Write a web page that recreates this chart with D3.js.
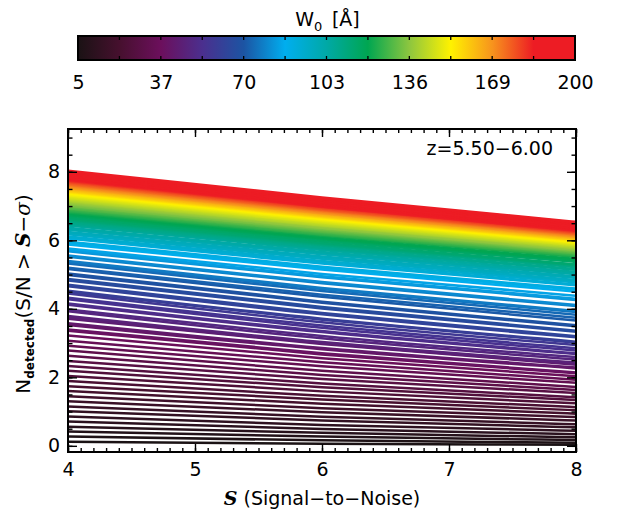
<!DOCTYPE html>
<html>
<head>
<meta charset="utf-8">
<script src="https://cdn.jsdelivr.net/npm/d3@7"></script>
<style>
  body { margin: 0; background: #fff; }
  svg { display: block; }
  text { font-family: "DejaVu Sans", sans-serif; fill: #000; }
</style>
</head>
<body>
<svg id="chart" width="620" height="516"></svg>
<script>
// Rest-frame equivalent width W0 [Å] of each curve
const w0 = [5,6.5,8,9.5,11,12.5,14,15.5,17,18.5,
  20,21.5,23,24.5,26,27.5,29,30.5,32,33.5,
  35,36.5,38,39.5,41,42.5,44,45.5,47,48.5,
  50,51.5,53,54.5,56,57.5,59,60.5,62,63.5,
  65,66.5,68,69.5,71,72.5,74,75.5,77,78.5,
  80,81.5,83,84.5,86,87.5,89,90.5,92,93.5,
  95,96.5,98,99.5,101,102.5,104,105.5,107,108.5,
  110,111.5,113,114.5,116,117.5,119,120.5,122,123.5,
  125,126.5,128,129.5,131,132.5,134,135.5,137,138.5,
  140,141.5,143,144.5,146,147.5,149,150.5,152,153.5,
  155,156.5,158,159.5,161,162.5,164,165.5,167,168.5,
  170,171.5,173,174.5,176,177.5,179,180.5,182,183.5,
  185,186.5,188,189.5,191,192.5,194,195.5,197,198.5,
  200];

// Signal-to-noise thresholds at which N_detected is tabulated
const snr = [4, 6, 8];

// N_detected at S = 4
const nAtS4 = [0.12,0.27,0.42,0.56,0.71,0.86,1.01,1.15,1.30,1.45,
  1.60,1.74,1.89,2.04,2.19,2.33,2.48,2.63,2.78,2.92,
  3.07,3.22,3.36,3.40,3.53,3.58,3.71,3.75,3.79,3.93,
  3.98,4.12,4.16,4.28,4.32,4.45,4.49,4.53,4.66,4.70,
  4.83,4.87,4.99,5.03,5.16,5.20,5.32,5.36,5.40,5.52,
  5.56,5.68,5.72,5.76,5.88,5.92,5.96,6.05,6.08,6.11,
  6.18,6.21,6.24,6.31,6.34,6.37,6.43,6.46,6.49,6.53,
  6.57,6.60,6.63,6.67,6.72,6.75,6.78,6.81,6.84,6.86,
  6.89,6.92,6.94,6.97,7.00,7.02,7.05,7.08,7.11,7.14,
  7.16,7.19,7.22,7.24,7.27,7.30,7.32,7.35,7.38,7.40,
  7.42,7.43,7.45,7.47,7.49,7.51,7.53,7.54,7.56,7.58,
  7.60,7.62,7.64,7.66,7.68,7.70,7.72,7.74,7.75,7.77,
  7.79,7.81,7.83,7.86,7.88,7.90,7.93,7.95,7.98,8.00,
  8.03];

// N_detected at S = 6
const nAtS6 = [0.06,0.16,0.27,0.38,0.49,0.61,0.74,0.85,0.98,1.10,
  1.23,1.35,1.46,1.59,1.71,1.82,1.95,2.07,2.19,2.32,
  2.44,2.56,2.67,2.70,2.82,2.86,2.97,3.00,3.03,3.14,
  3.21,3.32,3.35,3.45,3.51,3.61,3.68,3.71,3.84,3.88,
  4.01,4.05,4.18,4.21,4.35,4.41,4.52,4.58,4.61,4.75,
  4.78,4.92,4.95,5.02,5.15,5.19,5.23,5.32,5.35,5.40,
  5.46,5.48,5.53,5.59,5.64,5.66,5.72,5.76,5.79,5.84,
  5.87,5.90,5.93,5.98,6.03,6.05,6.08,6.13,6.16,6.17,
  6.20,6.23,6.25,6.27,6.30,6.32,6.35,6.37,6.40,6.43,
  6.44,6.47,6.50,6.52,6.54,6.57,6.59,6.62,6.64,6.66,
  6.68,6.69,6.71,6.72,6.74,6.76,6.78,6.79,6.80,6.82,
  6.84,6.86,6.88,6.89,6.91,6.93,6.95,6.97,6.98,6.99,
  7.02,7.04,7.05,7.08,7.10,7.12,7.16,7.18,7.21,7.22,
  7.25];

// N_detected at S = 8
const nAtS8 = [0.03,0.09,0.17,0.25,0.34,0.44,0.54,0.63,0.74,0.84,
  0.94,1.04,1.13,1.24,1.34,1.42,1.54,1.63,1.72,1.84,
  1.93,2.03,2.12,2.14,2.26,2.29,2.37,2.40,2.43,2.52,
  2.59,2.68,2.70,2.78,2.85,2.94,3.01,3.04,3.17,3.20,
  3.33,3.36,3.49,3.52,3.66,3.74,3.83,3.91,3.94,4.08,
  4.11,4.26,4.29,4.38,4.50,4.56,4.59,4.69,4.71,4.77,
  4.82,4.84,4.90,4.95,5.01,5.03,5.08,5.14,5.16,5.22,
  5.26,5.28,5.30,5.37,5.41,5.43,5.46,5.52,5.54,5.56,
  5.58,5.61,5.62,5.65,5.67,5.69,5.71,5.73,5.76,5.78,
  5.80,5.82,5.85,5.86,5.89,5.91,5.93,5.95,5.98,5.99,
  6.01,6.02,6.03,6.05,6.07,6.08,6.10,6.11,6.12,6.14,
  6.16,6.17,6.19,6.20,6.22,6.24,6.25,6.27,6.28,6.29,
  6.33,6.34,6.36,6.38,6.40,6.41,6.46,6.48,6.50,6.52,
  6.54];

// Axis ticks and labels
const xTicks = [4, 5, 6, 7, 8];
const yTicks = [0, 2, 4, 6, 8];
const colorbarLabels = ["5", "37", "70", "103", "136", "169", "200"];
const redshiftLabel = "z=5.50\u22126.00";

// Colour table running from W0 = 5 to W0 = 200
const paletteColors = ["#1a1214", "#46102e", "#6c0f5c", "#4b2f8e", "#1c54a3",
  "#00aeef", "#00a9a6", "#00a651", "#8dc63f", "#fff200",
  "#f7941d", "#ed1c24", "#ed1c24"];

const svg = d3.select("#chart");
const plot = { left: 68, right: 576, top: 129, bottom: 452 };
const bar = { left: 78, right: 575, top: 36, bottom: 60 };

const x = d3.scaleLinear().domain([4, 8]).range([plot.left, plot.right]);
const y = d3.scaleLinear().domain([-0.18, 9.25]).range([plot.bottom, plot.top]);

const wMin = d3.min(w0), wMax = d3.max(w0);
const stopPos = d3.scaleLinear().domain([0, paletteColors.length - 1]).range([wMin, wMax]);
const color = d3.scaleLinear()
  .domain(paletteColors.map((_, i) => stopPos(i)))
  .range(paletteColors)
  .interpolate(d3.interpolateRgb);

// ---- colour bar ----
const defs = svg.append("defs");
const grad = defs.append("linearGradient").attr("id", "wgrad")
  .attr("x1", "0%").attr("x2", "100%").attr("y1", "0%").attr("y2", "0%");
paletteColors.forEach((c, i) => {
  grad.append("stop").attr("offset", (100 * i / (paletteColors.length - 1)) + "%").attr("stop-color", c);
});
svg.append("rect")
  .attr("x", bar.left).attr("y", bar.top)
  .attr("width", bar.right - bar.left).attr("height", bar.bottom - bar.top)
  .attr("fill", "url(#wgrad)");

const barTick = d3.scaleLinear().domain([0, 12]).range([bar.left, bar.right]);
const barTickIdx = d3.range(1, 12);
svg.append("g").selectAll("line").data(barTickIdx).join("line")
  .attr("x1", d => barTick(d)).attr("x2", d => barTick(d))
  .attr("y1", bar.top).attr("y2", bar.top + 4)
  .attr("stroke", "#000").attr("stroke-width", 1.3);
svg.append("g").selectAll("line").data(barTickIdx).join("line")
  .attr("x1", d => barTick(d)).attr("x2", d => barTick(d))
  .attr("y1", bar.bottom).attr("y2", bar.bottom - 4)
  .attr("stroke", "#000").attr("stroke-width", 1.3);
svg.append("rect")
  .attr("x", bar.left).attr("y", bar.top)
  .attr("width", bar.right - bar.left).attr("height", bar.bottom - bar.top)
  .attr("fill", "none").attr("stroke", "#000").attr("stroke-width", 2);

const barLabelScale = d3.scalePoint().domain(colorbarLabels).range([bar.left, bar.right]);
const barAxis = svg.append("g").attr("transform", `translate(0,${bar.bottom})`)
  .call(d3.axisBottom(barLabelScale).tickSize(0).tickPadding(16));
barAxis.select(".domain").remove();
barAxis.selectAll("text").attr("font-family", "DejaVu Sans").attr("font-size", 19);

const barTitle = svg.append("text").attr("x", (bar.left + bar.right) / 2 + 1).attr("y", 26)
  .attr("text-anchor", "middle").attr("font-size", 19);
barTitle.append("tspan").text("W");
barTitle.append("tspan").attr("dy", 5).attr("font-size", 13).text("0");
barTitle.append("tspan").attr("dy", -5).text("\u2002[\u00C5]");

// ---- curves ----
defs.append("clipPath").attr("id", "plotClip").append("rect")
  .attr("x", plot.left).attr("y", plot.top)
  .attr("width", plot.right - plot.left).attr("height", plot.bottom - plot.top);

const series = w0.map((w, i) => ({
  w: w,
  pts: [[snr[0], nAtS4[i]], [snr[1], nAtS6[i]], [snr[2], nAtS8[i]]]
}));

const line = d3.line()
  .x(d => x(d[0]))
  .y(d => y(d[1]))
  .curve(d3.curveMonotoneX);

svg.append("g").attr("clip-path", "url(#plotClip)")
  .selectAll("path").data(series).join("path")
  .attr("d", d => line(d.pts))
  .attr("fill", "none")
  .attr("stroke", d => color(d.w))
  .attr("stroke-width", 2.5);

// ---- axes ----
function styleAxis(g) {
  g.select(".domain").remove();
  g.selectAll(".tick line").attr("stroke", "#000").attr("stroke-width", 1.4);
  g.selectAll("text").attr("font-family", "DejaVu Sans").attr("font-size", 19).attr("fill", "#000");
}
const xMinor = x.ticks(40);
const yMinor = d3.range(0, 9.01, 0.5);

svg.append("g").attr("transform", `translate(0,${plot.bottom})`)
  .call(d3.axisBottom(x).tickValues(xMinor).tickSize(-4).tickFormat("")).call(styleAxis);
svg.append("g").attr("transform", `translate(0,${plot.bottom})`)
  .call(d3.axisBottom(x).tickValues(xTicks).tickSize(-8).tickPadding(11).tickFormat(d3.format("d"))).call(styleAxis);
svg.append("g").attr("transform", `translate(0,${plot.top})`)
  .call(d3.axisTop(x).tickValues(xMinor).tickSize(-4).tickFormat("")).call(styleAxis);
svg.append("g").attr("transform", `translate(0,${plot.top})`)
  .call(d3.axisTop(x).tickValues(xTicks).tickSize(-8).tickFormat("")).call(styleAxis);

svg.append("g").attr("transform", `translate(${plot.left},0)`)
  .call(d3.axisLeft(y).tickValues(yMinor).tickSize(-4.5).tickFormat("")).call(styleAxis);
svg.append("g").attr("transform", `translate(${plot.left},0)`)
  .call(d3.axisLeft(y).tickValues(yTicks).tickSize(-9).tickPadding(8).tickFormat(d3.format("d"))).call(styleAxis);
svg.append("g").attr("transform", `translate(${plot.right},0)`)
  .call(d3.axisRight(y).tickValues(yMinor).tickSize(-4.5).tickFormat("")).call(styleAxis);
svg.append("g").attr("transform", `translate(${plot.right},0)`)
  .call(d3.axisRight(y).tickValues(yTicks).tickSize(-9).tickFormat("")).call(styleAxis);

svg.append("rect")
  .attr("x", plot.left).attr("y", plot.top)
  .attr("width", plot.right - plot.left).attr("height", plot.bottom - plot.top)
  .attr("fill", "none").attr("stroke", "#000").attr("stroke-width", 2);

// ---- labels ----
svg.append("text").attr("x", 553).attr("y", 155).attr("text-anchor", "end")
  .attr("font-size", 19).text(redshiftLabel);

const xTitle = svg.append("text").attr("x", (plot.left + plot.right) / 2).attr("y", 505)
  .attr("text-anchor", "middle").attr("font-size", 19);
xTitle.append("tspan").attr("font-family", "DejaVu Serif").attr("font-style", "italic")
  .attr("font-weight", "bold").text("S");
xTitle.append("tspan").text(" (Signal\u2212to\u2212Noise)");

const yTitle = svg.append("text").attr("transform", "translate(30,294) rotate(-90)")
  .attr("text-anchor", "middle").attr("font-size", 20);
yTitle.append("tspan").text("N");
yTitle.append("tspan").attr("dy", 4).attr("font-size", 12).attr("font-weight", "bold").text("detected");
yTitle.append("tspan").attr("dy", -4).text("(S/N > ");
yTitle.append("tspan").attr("font-family", "DejaVu Serif").attr("font-style", "italic")
  .attr("font-weight", "bold").text("S");
yTitle.append("tspan").text("\u2212");
yTitle.append("tspan").attr("font-family", "DejaVu Serif").attr("font-style", "italic").text("\u03C3");
yTitle.append("tspan").text(")");
</script>
</body>
</html>
